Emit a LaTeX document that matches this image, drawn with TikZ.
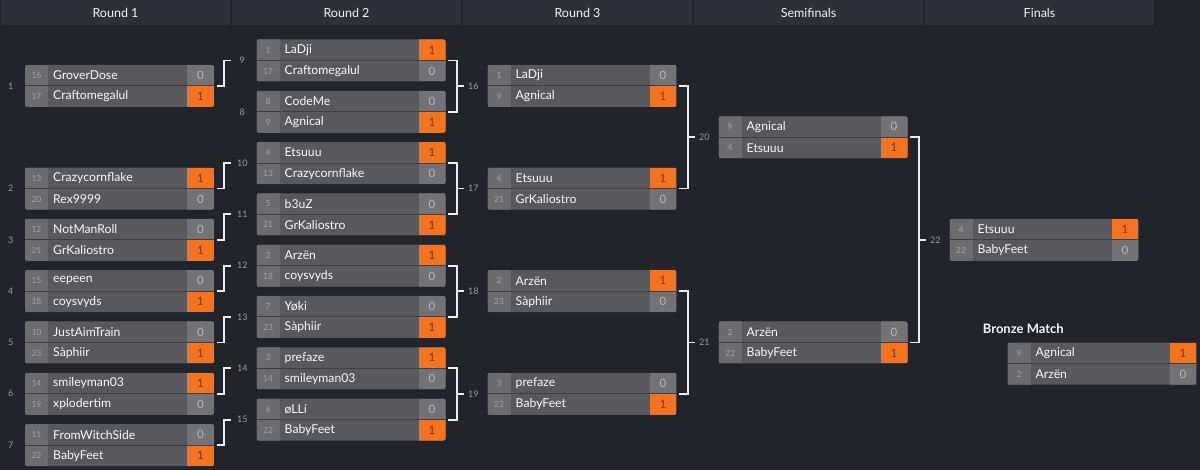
\documentclass[tikz,border=0pt]{standalone}
\usepackage{fontspec}
\setmainfont{Lato}
\definecolor{bgc}{HTML}{22242B}
\definecolor{hdrc}{HTML}{2D3039}
\definecolor{seedc}{HTML}{6B6B70}
\definecolor{namec}{HTML}{58585D}
\definecolor{scorec}{HTML}{727277}
\definecolor{winc}{HTML}{F47321}
\definecolor{divc}{HTML}{3E3E44}
\definecolor{seedtxt}{HTML}{A3A3A6}
\definecolor{scoretxt}{HTML}{B8B8BB}
\definecolor{wintxt}{HTML}{7E3208}
\definecolor{labc}{HTML}{9A9A9E}
\definecolor{connc}{HTML}{EDEDED}
\tikzset{
  conn/.style={draw=connc, line width=1.8pt},
  hdr/.style={fill=hdrc, text=white!90!gray, minimum height=25pt, minimum width=229pt, inner sep=0pt, font=\fontsize{12.5}{14}\selectfont},
  mbox/.style={fill=namec, minimum width=189pt, minimum height=42pt, inner sep=0pt, rounded corners=2pt},
  mnum/.style={text=labc, inner sep=0pt, font=\fontsize{9}{11}\selectfont},
  seedt/.style={text=seedtxt, inner sep=0pt, font=\fontsize{8.5}{10}\selectfont},
  namet/.style={text=white!95!gray, inner sep=0pt, anchor=west, font=\fontsize{12.2}{14}\selectfont},
  scoret/.style={inner sep=0pt, font=\fontsize{11.5}{13}\selectfont},
}
% #1 id, #2 x, #3 y, #4 seed1, #5 name1, #6 seed2, #7 name2, #8 winner, #9 label
\newcommand{\bmatch}[9]{%
  \node[mbox] (#1) at (#2+94.5,#3+21) {};
  \begin{scope}
    \clip[rounded corners=2pt] (#2,#3) rectangle ++(189,42);
    \fill[seedc] (#2,#3) rectangle ++(23,42);
    \ifnum#8=1
      \fill[winc] (#2+162,#3) rectangle ++(27,21);
      \fill[scorec] (#2+162,#3+21) rectangle ++(27,21);
    \else
      \fill[scorec] (#2+162,#3) rectangle ++(27,21);
      \fill[winc] (#2+162,#3+21) rectangle ++(27,21);
    \fi
    \draw[divc, line width=1pt] (#2,#3+21) -- ++(189,0);
  \end{scope}
  \node[seedt] (#1-sa) at (#2+11.5,#3+10.5) {#4};
  \node[seedt] (#1-sb) at (#2+11.5,#3+31.5) {#6};
  \node[namet] (#1-na) at (#2+28,#3+10.5) {#5};
  \node[namet] (#1-nb) at (#2+28,#3+31.5) {#7};
  \ifnum#8=1
    \node[scoret, text=wintxt] (#1-pa) at (#2+175.5,#3+10.5) {1};
    \node[scoret, text=scoretxt] (#1-pb) at (#2+175.5,#3+31.5) {0};
  \else
    \node[scoret, text=scoretxt] (#1-pa) at (#2+175.5,#3+10.5) {0};
    \node[scoret, text=wintxt] (#1-pb) at (#2+175.5,#3+31.5) {1};
  \fi
  \node[mnum] (#1-lab) at ([xshift=-14pt]#1.west) {#9};
}
\begin{document}
\begin{tikzpicture}[x=1pt,y=-1pt]
\useasboundingbox (0,0) rectangle (1200,470);
\fill[bgc] (0,0) rectangle (1200,470);
% headers
\node[hdr] (h1) at (115.5,12.5) {Round 1};
\node[hdr] (h2) at (346.5,12.5) {Round 2};
\node[hdr] (h3) at (577.5,12.5) {Round 3};
\node[hdr] (h4) at (808.5,12.5) {Semifinals};
\node[hdr] (h5) at (1039.5,12.5) {Finals};
% Round 1
\bmatch{m1}{25}{65}{16}{GroverDose}{17}{Craftomegalul}{2}{1}
\bmatch{m2}{25}{167.6}{13}{Crazycornflake}{20}{Rex9999}{1}{2}
\bmatch{m3}{25}{218.9}{12}{NotManRoll}{21}{GrKaliostro}{2}{3}
\bmatch{m4}{25}{270.2}{15}{eepeen}{18}{coysvyds}{2}{4}
\bmatch{m5}{25}{321.5}{10}{JustAimTrain}{23}{Sàphiir}{2}{5}
\bmatch{m6}{25}{372.8}{14}{smileyman03}{19}{xplodertim}{1}{6}
\bmatch{m7}{25}{424.1}{11}{FromWitchSide}{22}{BabyFeet}{2}{7}
% Round 2
\bmatch{m9}{256.5}{39.5}{1}{LaDji}{17}{Craftomegalul}{1}{9}
\bmatch{m8}{256.5}{90.8}{8}{CodeMe}{9}{Agnical}{2}{8}
\bmatch{m10}{256.5}{142.1}{4}{Etsuuu}{13}{Crazycornflake}{1}{10}
\bmatch{m11}{256.5}{193.4}{5}{b3uZ}{21}{GrKaliostro}{2}{11}
\bmatch{m12}{256.5}{244.7}{2}{Arzën}{18}{coysvyds}{1}{12}
\bmatch{m13}{256.5}{296.0}{7}{Yøki}{23}{Sàphiir}{2}{13}
\bmatch{m14}{256.5}{347.3}{3}{prefaze}{14}{smileyman03}{1}{14}
\bmatch{m15}{256.5}{398.6}{6}{øLLí}{22}{BabyFeet}{2}{15}
% Round 3
\bmatch{m16}{487.5}{65}{1}{LaDji}{9}{Agnical}{2}{16}
\bmatch{m17}{487.5}{167.6}{4}{Etsuuu}{21}{GrKaliostro}{1}{17}
\bmatch{m18}{487.5}{270.2}{2}{Arzën}{23}{Sàphiir}{1}{18}
\bmatch{m19}{487.5}{372.8}{3}{prefaze}{22}{BabyFeet}{2}{19}
% Semifinals
\bmatch{m20}{718.5}{116.3}{9}{Agnical}{4}{Etsuuu}{2}{20}
\bmatch{m21}{718.5}{321.5}{2}{Arzën}{22}{BabyFeet}{2}{21}
% Final
\bmatch{m22}{949.5}{218.9}{4}{Etsuuu}{22}{BabyFeet}{1}{22}
% Bronze
\node[text=white!92!gray, anchor=west, inner sep=0pt, font=\bfseries\fontsize{13}{15}\selectfont] (bronze) at (982.7,329) {Bronze Match};
\bmatch{mb}{1007.5}{342.7}{9}{Agnical}{2}{Arzën}{1}{}
% R1 -> R2 connectors
\foreach \a/\b in {m1/m9, m2/m10, m3/m11, m4/m12, m5/m13, m6/m14, m7/m15}{
  \draw[conn] ([xshift=2.5pt]\a.east) -- ++(7,0) |- ([xshift=-25pt]\b.west);
}
% brackets
\foreach \a/\b/\c in {m9/m8/m16, m10/m11/m17, m12/m13/m18, m14/m15/m19, m16/m17/m20, m18/m19/m21, m20/m21/m22}{
  \draw[conn] ([xshift=2.5pt]\a.east) -- ([xshift=11pt]\a.east) |- ([xshift=2.5pt]\b.east);
  \draw[conn] ([xshift=-31pt]\c.west) -- ([xshift=-23pt]\c.west);
}
\end{tikzpicture}
\end{document}
